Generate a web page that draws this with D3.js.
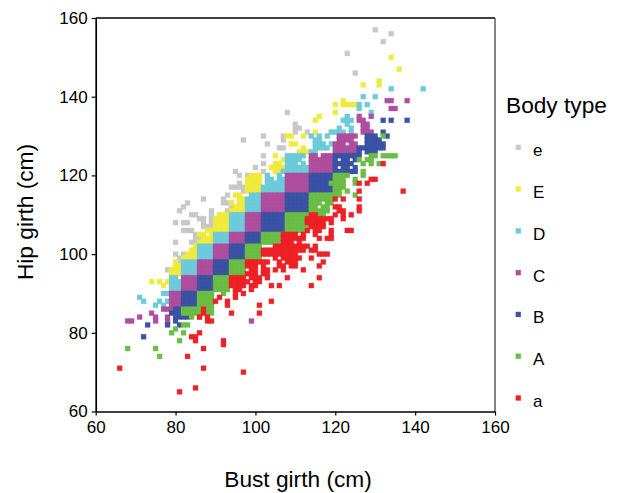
<!DOCTYPE html>
<html><head><meta charset="utf-8">
<script src="https://cdn.jsdelivr.net/npm/d3@7"></script>
<style>html,body{margin:0;padding:0;background:#fff}svg{display:block}text{font-family:"Liberation Sans",Arial,sans-serif;fill:#000}</style>
</head><body><svg id="c" width="620" height="493"></svg>
<script>
// each row: hip girth, then the bust girths seen at that hip girth
const rows_e = [[157,130],[156,134],[154,132],[151,123],[146,125],[136,108],[133,110],[132,110,111],[131,110,113],[130,102,107],[129,97,107],[128,103],[127,106,107],[125,102],[123,102],[122,100],[121,95,102],[120,96,98],[118,96],[117,94,95,96,97],[116,97],[115,93],[114,87,92],[113,83,92,93,94],[112,82,94],[111,81,89,93],[110,84,85,89],[109,86,87,89],[108,80,82,83,87,89],[107,87,88,89,90],[106,82,83,84],[105,85],[104,85,86],[103,80,84,85],[100,80,82],[99,81],[98,81],[96,78,79]];
const rows_E = [[150,134],[147,136],[144,131],[143,127,131],[139,122],[138,120,122,123,124,125],[136,120],[135,116],[134,115],[131,115,119],[130,108,109,112],[128,109,110],[127,112],[126,111,112,113],[125,105],[124,107],[123,105,106],[122,104,105,106,107],[121,105,106],[120,99,100,101],[119,98,99,100,101],[118,98,99,100,101],[117,98,99,100,101],[116,98,99,100,101],[115,95,96],[114,96,97],[113,94,96,97],[112,95,96,97],[111,94,95,96,97],[110,91,92,93],[109,90,91,92,93],[108,90,91,92,93],[107,90,91,92,93],[106,88,89,90,91,92,93],[105,86,87,89],[104,87,88,89],[103,86,87,88,89],[102,85],[101,84,85],[100,83,84,85],[99,82,83,84,85],[98,80],[97,80,81],[96,79,80,81],[95,79,80,81],[93,74,76,78],[92,77]];
const rows_D = [[142,134,142],[140,127,130],[138,126,128],[137,126],[136,129],[135,123],[134,122,123,124],[133,123],[132,121,124],[131,119,120,121,122,124],[130,114,116,118],[129,115,116],[128,115,116,117,119],[127,115,116,117,118],[126,114,115],[125,108,109,110,111,112],[124,108,109,110,111],[123,108,109,110,112],[122,108,109,110,111,112,113],[121,107,108,109,110,111,112,113],[120,103,106],[119,103,104,106,107],[118,103,104,105,106,107],[117,102,103,104,105,106,107],[116,102,103,104,105,106,107],[115,99,100,101],[114,98,99,100,101],[113,98,99,100,101],[112,98,99,100,101],[111,98,99,100,101],[110,94,95,96,97],[109,94,95,96,97],[108,94,95,96,97],[107,94,95,96,97],[106,94,95,96,97],[105,90,91,92,93],[104,90,91,92,93],[103,90,91,92,93],[102,86,87,88,89],[101,86,87,88,89],[100,86,87,88,89],[99,86,87,88,89],[98,82,83,84,85],[97,82,83,84,85],[96,82,83,84,85],[95,82,83,84,85],[94,79,80],[93,79,80,81],[92,79,80,81],[91,79,80,81],[90,77,78],[89,71],[88,72,76,78],[87,75,77]];
const rows_C = [[139,133,134,138],[137,134,135],[135,126,129],[134,126,127],[133,127,128],[132,127,128],[131,127,128,129],[130,121,122,123,124,125],[129,121,122,123,124],[128,120,121,122,124,125],[127,120,121,122,123,124,125],[126,120,121,122,123,124,125],[125,114,115,117,118,119],[124,114,115,116,117,118,119],[123,114,115,116,117,118,119],[122,114,115,116,117,118,119],[121,114,115,116,117,118,119],[120,108,109,110,111,112,113],[119,108,109,110,111,112,113],[118,108,109,110,111,112,113],[117,108,109,110,111,112,113],[116,108,109,110,111,112,113],[115,102,103,104,105,106,107],[114,102,103,104,105,106,107],[113,102,103,104,105,106,107],[112,102,103,104,105,106,107],[111,102,103,104,105,106,107],[110,98,99,100,101],[109,98,99,100,101],[108,98,99,100,101],[107,98,99,100,101],[106,98,99,100,101],[105,94,95,96,97],[104,94,95,96,97],[103,94,95,96,97],[102,90,91,92,93],[101,90,91,92,93],[100,90,91,92,93],[99,90,91,92,93],[98,86,87,88,89],[97,86,87,88,89],[96,86,87,88,89],[95,86,87,88,89],[94,82,83,84,85],[93,82,83,84,85],[92,82,83,84,85],[91,82,83,84,85],[90,79,80,81],[89,79,80,81],[88,79,80,81],[87,79,80,81],[86,77,78,79],[85,74],[84,71,75,78],[83,68,69,75,78,99]];
const rows_B = [[134,132,134,138],[131,132],[130,128,129,130,133],[129,128,129,130,131],[128,128,129,130,131,132],[127,126,127,128,129,130,131,132],[126,126,128,129,130],[125,120,121,122,123,124,125,126],[124,120,122,123,125],[123,120,121,122,123,124],[122,120,122,123,125],[121,120,121,122,123,124,125],[120,114,115,116,117,118,119],[119,114,115,116,117,118,119],[118,114,115,116,117,118,119],[117,114,115,116,117,118,119],[116,114,115,116,117,118,119],[115,108,109,110,111,112,113],[114,108,109,110,111,112,113],[113,108,109,110,111,112,113],[112,108,109,110,111,112,113],[111,108,109,110,111,112,113],[110,102,103,104,105,106,107],[109,102,103,104,105,106,107],[108,102,103,104,105,106,107],[107,102,103,104,105,106,107],[106,102,103,104,105,106,107],[105,98,99,100,101],[104,98,99,100,101],[103,98,99,100,101],[102,94,95,96,97],[101,94,95,96,97],[100,94,95,96,97],[99,94,95,96,97],[98,90,91,92,93],[97,90,91,92,93],[96,90,91,92,93],[95,90,91,92,93],[94,86,87,88,89],[93,86,87,88,89],[92,86,87,88,89],[91,86,87,88,89],[90,82,83,84,85],[89,82,83,84,85],[88,82,83,84,85],[87,82,83,84,85],[86,80,81],[85,79,80,81],[84,80,81,82,83],[83,80],[82,73,78,81],[79,72]];
const rows_A = [[130,132],[125,129,130,132,133,134,135],[124,126,128,129],[123,127,129,131],[121,127],[120,120,121,122,123,127],[119,120,121,122,125],[118,119,120,121,122,125],[117,120,121,122],[116,120,121,123],[115,114,115,116,117,118,119,120,121,125],[114,114,115,116,117,118,119],[113,114,115,116,118,119],[112,114,115,117,118],[111,114,115,116,117,118],[110,108,109,110,111,112,113,116,117],[109,108,109,110,111,112,113],[108,108,109,110,111,112,113],[107,108,109,110,111,112,113],[106,108,109,110,111,112,113],[105,102,103,104,105,106,107],[104,102,103,104,105,106,107],[103,102,103,104,105,106,107],[102,98,99,100,101],[101,98,99,100,101],[100,98,99,100,101],[99,98,99,100,101],[98,94,95,96,97],[97,94,95,96,97],[96,94,95,96,97],[95,94,95,96,97],[94,90,91,92,93],[93,90,91,92,93],[92,90,91,92,93],[91,90,91,92,93],[90,86,87,88,89,92],[89,86,87,88,89],[88,86,87,88,89],[87,86,87,88,89],[86,82,83,84,85,86,87,88,89],[85,82,83,84,85,86,88,89],[84,84,86],[82,82,83],[81,80],[80,79,82],[78,81],[76,68,75],[74,76]];
const rows_a = [[123,132],[119,129,130],[118,126,128],[116,126,137],[114,120,122,126],[112,120,121,126],[111,121,122,126],[110,114,115,120,122,124],[109,113,114,115,116,117,118,119,122],[108,113,114,115,116,117,119],[107,114,115,116,117],[106,113,115,116,119,123,124],[105,107,108,109,110,112,115,119],[104,107,108,109,110,111,112,116,118,119],[103,107,108,109,111],[102,105,106,107,108,109,110,111,112,113,115],[101,102,103,104,105,106,107,108,109,110,111,112,114,115],[100,102,103,104,105,106,107,108,109,110,116,117,118],[99,105,107,108,109,110,111,114],[98,98,99,100,101,102,103,106,108,109,110,117],[97,98,99,100,102,106,107,109,110,116],[96,99,100,102,103,105,107,112],[95,98,99,100,102,103],[94,94,95,96,97,99,100,101,103,108,116],[93,94,95,96,97,98,100,101],[92,94,95,96,97,99,100,104,106,114],[91,95,96,99],[90,95,97],[89,91,95],[88,90,93,104],[87,93,101],[86,87],[85,87,94,101],[84,86,88],[83,88,89],[80,86],[79,84,85],[78,85,92],[77,92],[76,87],[74,83],[71,66,87],[70,97],[66,85],[65,81]];

const typeNames = ["e","E","D","C","B","A","a"];
const typeColors = ["#c7c8ca","#f1ea3c","#6ccbda","#af4e9e","#3a53a4","#6abd45","#ee2126"];
const typeRows = [rows_e,rows_E,rows_D,rows_C,rows_B,rows_A,rows_a];
const ticks = [60,80,100,120,140,160];
const xTitle = "Bust girth (cm)", yTitle = "Hip girth (cm)", legendTitle = "Body type";

const svg = d3.select("#c");
const x = d3.scaleLinear().domain([60,160]).range([95.7,495]);
const y = d3.scaleLinear().domain([60,160]).range([411.5,18]);
const size = 5;

function mark(sel,color){
  return sel.attr("width",size).attr("height",size).attr("fill",color)
    .attr("stroke",color).attr("stroke-opacity",.3).attr("stroke-width",.8);
}
const gAll = svg.append("g");
typeNames.forEach((n,i)=>{
  const pts = typeRows[i].flatMap(r=>r.slice(1).map(b=>({b,h:r[0]})));
  gAll.append("g").selectAll("rect").data(pts).join("rect")
    .attr("x",d=>x(d.b)-size/2).attr("y",d=>y(d.h)-size/2)
    .call(mark,typeColors[i]);
});

const frame = svg.append("g").attr("fill","none").attr("stroke","#000").attr("stroke-width",1.3);
frame.append("line").attr("x1",x(60)).attr("x2",x(160)).attr("y1",y(160)).attr("y2",y(160));
frame.append("line").attr("x1",x(160)).attr("x2",x(160)).attr("y1",y(160)).attr("y2",y(60)).attr("stroke","#444");

const xa = svg.append("g").attr("transform",`translate(0,${y(60)})`)
  .call(d3.axisBottom(x).tickValues(ticks).tickSize(4).tickSizeOuter(0).tickPadding(5));
const ya = svg.append("g").attr("transform",`translate(${x(60)},0)`)
  .call(d3.axisLeft(y).tickValues(ticks).tickSize(4).tickSizeOuter(0).tickPadding(4));
[xa,ya].forEach(g=>{
  g.selectAll("path").attr("stroke","#000").attr("stroke-width",1.7);
  g.selectAll("line").attr("stroke","#000").attr("stroke-width",1.2);
  g.selectAll("text").attr("font-size",17).style("font-family",'"Liberation Sans",Arial,sans-serif').attr("fill","#000");
});

svg.append("text").attr("x",298).attr("y",487).attr("text-anchor","middle").attr("font-size",22.7).text(xTitle);
svg.append("text").attr("transform","translate(33,212) rotate(-90)").attr("text-anchor","middle").attr("font-size",22.7).text(yTitle);

svg.append("text").attr("x",506).attr("y",113).attr("font-size",22.7).text(legendTitle);
const ly = d3.scalePoint().domain(typeNames).range([147.3,398]);
typeNames.forEach((n,i)=>{
  svg.append("rect").attr("x",518.3-size/2).attr("y",ly(n)-size/2).call(mark,typeColors[i]);
  svg.append("text").attr("x",533).attr("y",ly(n)+9).attr("font-size",17).text(n);
});
</script></body></html>
